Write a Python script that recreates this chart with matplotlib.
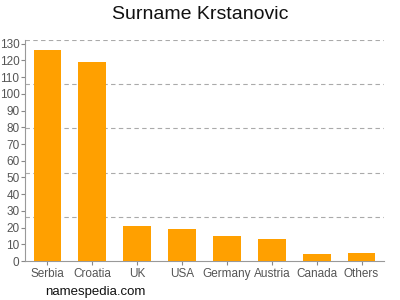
import numpy as np
import matplotlib.pyplot as plt

plt.rcParams['font.family'] = ['Liberation Sans', 'DejaVu Sans']

countries = ['Serbia', 'Croatia', 'UK', 'USA', 'Germany', 'Austria', 'Canada', 'Others']
counts = [126, 119, 21, 19, 15, 13, 4, 5]
yticks = list(range(0, 131, 10))

fig = plt.figure(figsize=(4, 3), dpi=100)
ax = fig.add_axes([0.0625, 0.13, 0.8975, 0.737])

x = np.arange(len(countries))
ax.bar(x, counts, width=0.62, color='#ffa000', zorder=3)

top = max(counts) * 1.05
ax.set_ylim(0, top)
ax.set_xlim(-0.5, len(countries) - 0.5)

# dashed grid at fifths of the range
for g in np.linspace(0, top, 6)[1:]:
    ax.axhline(g, color='#aaaaaa', linestyle=(0, (4, 3)), linewidth=0.8, zorder=1)

ax.set_yticks(yticks)
ax.set_xticks(x)
ax.set_xticklabels(countries)
ax.tick_params(axis='both', colors='#888888', labelcolor='#555555', labelsize=8.5, length=3, width=0.8, pad=1)
ax.tick_params(axis='x', pad=2)

for s in ['top', 'right']:
    ax.spines[s].set_visible(False)
for s in ['left', 'bottom']:
    ax.spines[s].set_color('#999999')
    ax.spines[s].set_linewidth(0.8)

fig.text(0.5, 0.953, 'Surname Krstanovic', ha='center', va='center', fontsize=14, color='#111111')
fig.text(0.113, 0.027, 'namespedia.com', ha='left', va='center', fontsize=9.5, color='#111111')

fig.savefig('out.png', dpi=100)
